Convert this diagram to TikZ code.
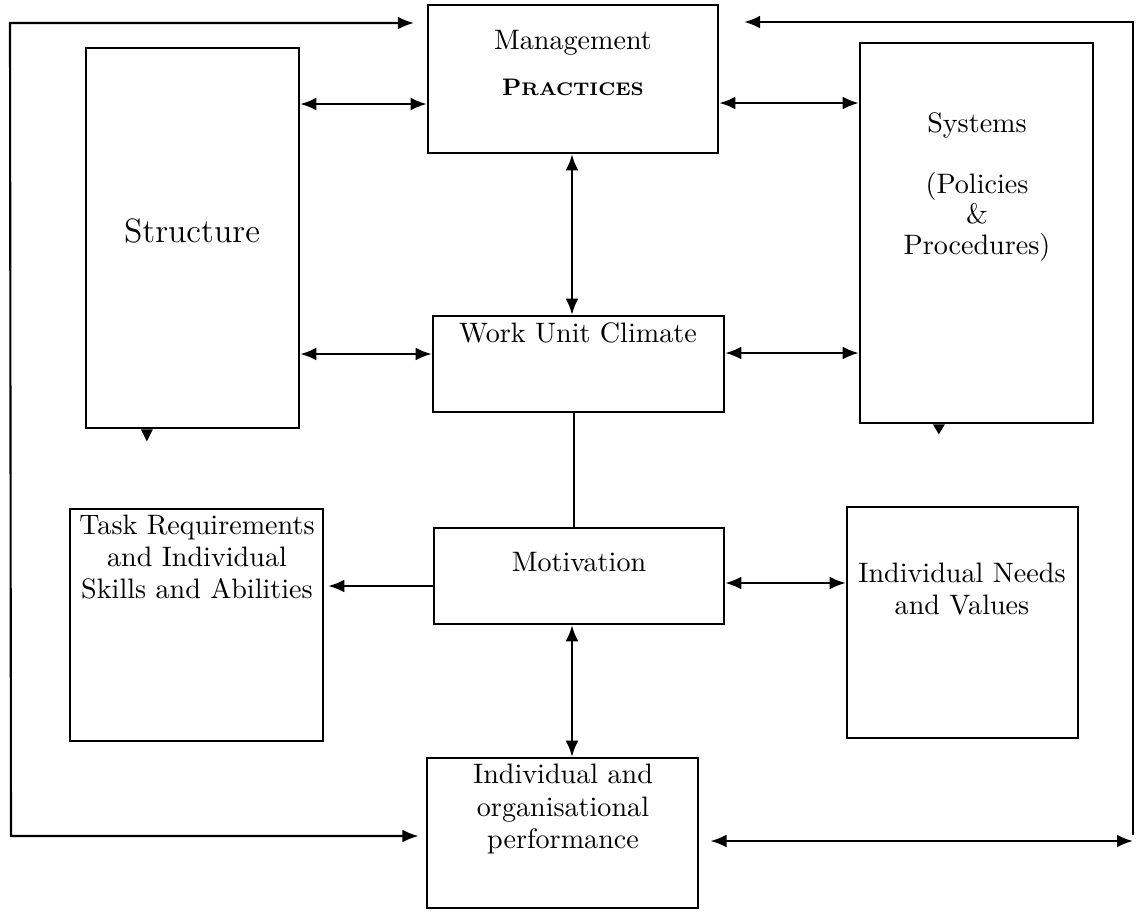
\documentclass[tikz,border=0pt]{standalone}
\usepackage{tikz}
\usetikzlibrary{arrows.meta,calc,positioning}

\begin{document}
\begin{tikzpicture}[
  x=0.0125cm,y=-0.0125cm,
  box/.style={draw,line width=0.9pt,inner sep=0pt},
  txt/.style={align=center,inner sep=0pt,font=\fontsize{10}{11.5}\selectfont},
  both/.style={{Latex[length=2mm,width=1.6mm]}-{Latex[length=2mm,width=1.6mm]},line width=0.75pt},
  one/.style={-{Latex[length=2mm,width=1.6mm]},line width=0.75pt},
  plain/.style={line width=0.75pt}
]
\useasboundingbox (0,0) rectangle (1136,911);
\clip (0,0) rectangle (1136,911);
\node[box,minimum width=3.625cm,minimum height=1.85cm] (mp) at (573,79) {};
\node[box,minimum width=2.6625cm,minimum height=4.75cm] (st) at (192.5,238) {};
\node[box,minimum width=2.9125cm,minimum height=4.75cm] (sy) at (976.5,233) {};
\node[box,minimum width=3.6375cm,minimum height=1.2cm] (wc) at (578.5,364) {};
\node[box,minimum width=3.625cm,minimum height=1.2cm] (mo) at (579,576) {};
\node[box,minimum width=3.1625cm,minimum height=2.9cm] (tr) at (196.5,625) {};
\node[box,minimum width=2.8875cm,minimum height=2.8875cm] (nv) at (962.5,622.5) {};
\node[box,minimum width=3.3875cm,minimum height=1.875cm] (pf) at (562.5,833) {};
\node[txt] (mpT) at (573,63) {Management\\[5pt]{\bfseries\fontsize{8.5}{10}\selectfont P{\fontsize{6.5}{8}\selectfont RACTICES}}};
\node[txt,font=\large] (stT) at (192,231) {Structure};
\node[txt,font=\fontsize{10}{10.8}\selectfont] (syT) at (977,187) {Systems\\[10.8pt](Policies\\ \&\\ Procedures)};
\node[txt] (wcT) at (578,333) {Work Unit Climate};
\node[txt] (moT) at (579,562) {Motivation};
\node[txt] (trT) at (197,557) {Task Requirements\\ and Individual\\ Skills and Abilities};
\node[txt] (nvT) at (962,589) {Individual Needs\\ and Values};
\node[txt] (pfT) at (563,809) {Individual and\\ organisational\\ performance};
\coordinate (lt) at (10,23);
\coordinate (lb) at (11,836);
\coordinate (rt) at (1133,22);
\coordinate (rb) at (1133,835);
\draw[both] (st.east |- 0,104) -- (mp.west |- 0,104);
\draw[both] (mp.east |- 0,103) -- (sy.west |- 0,103);
\draw[both] (mp.south -| 572,0) -- (wc.north -| 572,0);
\draw[both] (st.east |- 0,354) -- (wc.west |- 0,354);
\draw[both] (wc.east |- 0,353) -- (sy.west |- 0,353);
\draw[plain] (wc.south -| 574,0) -- (mo.north -| 574,0);
\draw[one] (mo.west |- 0,586) -- ([xshift=0.5mm]tr.east |- 0,586);
\draw[both] (mo.east |- 0,583) -- (nv.west |- 0,583);
\draw[both] (mo.south -| 572,0) -- (pf.north -| 572,0);
\draw[both] ([xshift=-1.6mm]mp.west |- lt) -- (lt) -- (lb) -- ([xshift=-0.9mm]pf.west |- lb);
\draw[one] (rb) -- (rt) -- ([xshift=3.1mm]mp.east |- rt);
\draw[both] ([xshift=1.4mm]pf.east |- 0,841) -- (rb |- 0,841);
\fill ([xshift=-5.7mm]st.south) ++(-6,0) -- ++(12,0) -- ++(-6,12) -- cycle;
\fill ([xshift=-4.7mm]sy.south) ++(-6,0) -- ++(12,0) -- ++(-6,10) -- cycle;
\end{tikzpicture}
\end{document}
